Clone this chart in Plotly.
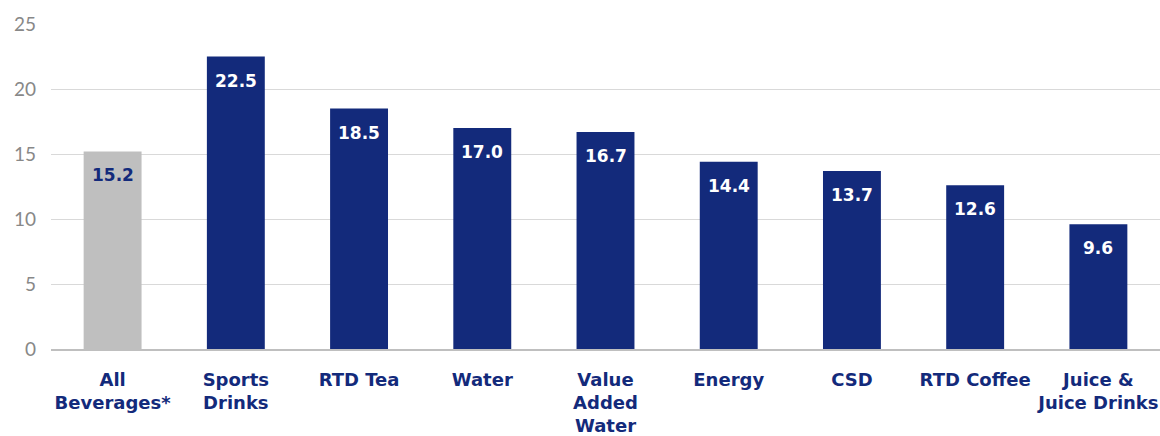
import plotly.graph_objects as go

categories = ["All<br>Beverages*", "Sports<br>Drinks", "RTD Tea", "Water", "Value<br>Added<br>Water",
              "Energy", "CSD", "RTD Coffee", "Juice &<br>Juice Drinks"]
values = [15.2, 22.5, 18.5, 17.0, 16.7, 14.4, 13.7, 12.6, 9.6]
tick_vals = [0, 5, 10, 15, 20, 25]

NAVY = "#132a7b"
GRAY = "#bfbfbf"
bar_colors = [GRAY] + [NAVY] * (len(values) - 1)
label_colors = [NAVY] + ["white"] * (len(values) - 1)
BOLD_FONT = "'DejaVu Sans', sans-serif"
TICK_FONT = "Lato, 'DejaVu Sans', sans-serif"

fig = go.Figure(go.Bar(
    x=categories, y=values, marker=dict(color=bar_colors, line=dict(width=0)),
    width=0.47, hoverinfo="skip",
))

for c, v, col in zip(categories, values, label_colors):
    fig.add_annotation(x=c, y=v, text=f"<b>{v:.1f}</b>", showarrow=False,
                       yanchor="top", yshift=-12,
                       font=dict(family=BOLD_FONT, size=17, color=col))

fig.update_layout(
    width=1160, height=436,
    margin=dict(l=51, r=0, t=24, b=87),
    plot_bgcolor="white", paper_bgcolor="white",
    showlegend=False, bargap=0.53,
    font=dict(family=TICK_FONT),
)
fig.update_xaxes(
    tickfont=dict(family=BOLD_FONT, size=18, color=NAVY), tickprefix="<b>", ticksuffix="</b>",
    showline=True, linecolor="#bfbfbf", linewidth=2, ticks="", showgrid=False,
    ticklabelstandoff=13,
)
fig.update_yaxes(
    range=[0, 25], tickvals=tick_vals, tickfont=dict(family=TICK_FONT, size=19, color="#888888"),
    showgrid=True, gridcolor="#d9d9d9", gridwidth=1, zeroline=False, ticklabelstandoff=14,
)
fig.write_html("out.html")
